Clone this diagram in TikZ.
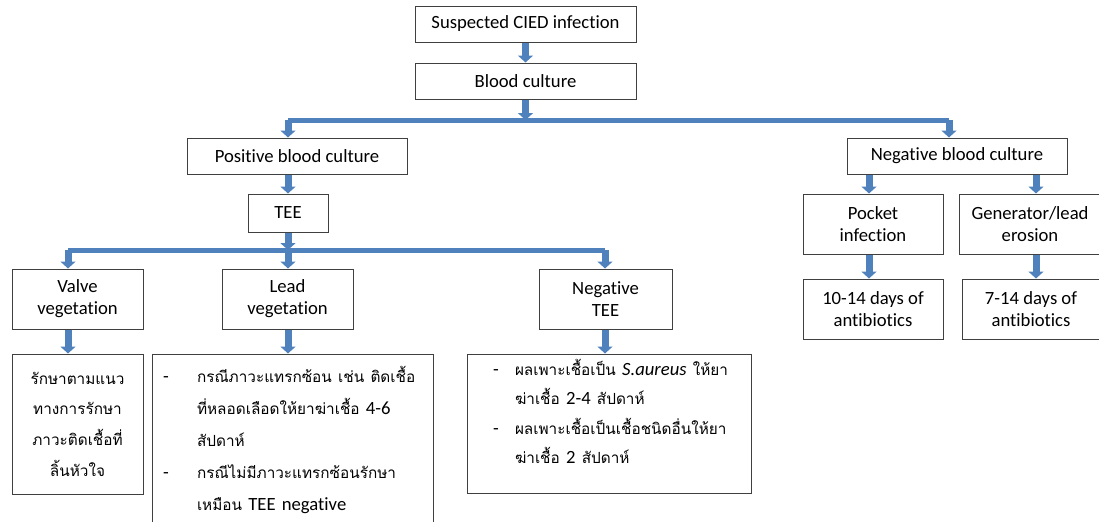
\documentclass[tikz,border=0pt]{standalone}
\usepackage{fontspec}
\setmainfont{Carlito}[Ligatures=NoCommon]
\newfontfamily\thai[Script=Thai]{Loma}
\usetikzlibrary{arrows.meta}
\definecolor{arrowblue}{RGB}{79,129,189}
\definecolor{boxline}{RGB}{64,64,64}
\tikzset{
  blockbox/.style={draw=boxline, line width=0.75pt, fill=white, align=center,
    inner sep=0pt, font=\fontsize{14}{16.5}\selectfont},
  boxsize/.style 2 args={minimum width=#1*0.75pt, minimum height=#2*0.75pt},
  flowarrow/.style={draw=arrowblue, line width=5.25pt,
    -{Triangle[width=11.25pt,length=5.25pt]}},
  flowbar/.style={draw=arrowblue, line width=3.75pt},
}
\newcommand{\dashitem}[2]{\hspace*{#1}\makebox[#2][l]{-}}
\newcommand{\thaitext}[1]{{\thai\fontsize{11.5}{\baselineskip}\selectfont #1}}
\begin{document}
\begin{tikzpicture}[x=0.75pt,y=-0.75pt]
  \clip (0,0) rectangle (1099,521);

  % top of the chart
  \node[blockbox, boxsize={221}{36}] (suspect) at (525.5,24) {Suspected CIED infection};
  \node[blockbox, boxsize={221}{36}] (blood) at (525.5,81) {Blood culture};

  % first split
  \coordinate (split) at (525.5,120);
  \coordinate (posj) at (288,120);
  \coordinate (negj) at (949,120);
  \node[blockbox, boxsize={220}{36}] (pos) at (297,156) {Positive blood culture};
  \node[blockbox, boxsize={220}{36}] (neg) at (957,156) {Negative blood culture};

  % positive side
  \node[blockbox, boxsize={80}{38}] (tee) at (288,213) {TEE};
  \coordinate (teej) at (288,250);
  \coordinate (valvej) at (68,250);
  \coordinate (negteej) at (605,250);
  \node[blockbox, boxsize={131}{60}] (valve) at (77.5,299) {Valve\\vegetation};
  \node[blockbox, boxsize={131}{60}] (lead) at (287.5,299) {Lead\\vegetation};
  \node[blockbox, boxsize={133}{60}] (negtee) at (605.5,299) {Negative\\TEE};

  % treatment boxes
  \node[blockbox, boxsize={131}{140}, font=\thai\fontsize{11.5}{23}\selectfont] (valvetx) at (77.5,424)
    {รักษาตามแนว\\ทางการรักษา\\ภาวะติดเชื้อที่\\ลิ้นหัวใจ};
  \node[blockbox, boxsize={281}{172}, text width=210.75pt, align=left,
    font=\fontsize{14}{24}\selectfont] (leadtx) at (292.5,440)
    {\dashitem{8.25pt}{25.5pt}\thaitext{กรณีภาวะแทรกซ้อน เช่น ติดเชื้อ}\\
     \hspace*{33.75pt}\thaitext{ที่หลอดเลือดให้ยาฆ่าเชื้อ} 4-6\\
     \hspace*{33.75pt}\thaitext{สัปดาห์}\\
     \dashitem{8.25pt}{25.5pt}\thaitext{กรณีไม่มีภาวะแทรกซ้อนรักษา}\\
     \hspace*{33.75pt}\thaitext{เหมือน} TEE negative};
  \node[blockbox, boxsize={284}{139}, text width=213pt, align=left,
    font=\fontsize{14}{22}\selectfont] (negteetx) at (609,423.5)
    {\dashitem{19.5pt}{16.5pt}\thaitext{ผลเพาะเชื้อเป็น} \textit{S.aureus} \thaitext{ให้ยา}\\
     \hspace*{36pt}\thaitext{ฆ่าเชื้อ} 2-4 \thaitext{สัปดาห์}\\
     \dashitem{19.5pt}{16.5pt}\thaitext{ผลเพาะเชื้อเป็นเชื้อชนิดอื่นให้ยา}\\
     \hspace*{36pt}\thaitext{ฆ่าเชื้อ} 2 \thaitext{สัปดาห์}\\[-4pt]\mbox{}};

  % negative side
  \coordinate (pocketc) at (869,0);
  \coordinate (genc) at (1036,0);
  \node[blockbox, boxsize={140}{60}] (pocket) at (873,224) {Pocket\\infection};
  \node[blockbox, boxsize={142}{60}] (gen) at (1030,224) {Generator/lead\\erosion};
  \node[blockbox, boxsize={140}{60}] (abone) at (873,309) {10-14 days of\\antibiotics};
  \node[blockbox, boxsize={138}{60}] (abtwo) at (1031,309) {7-14 days of\\antibiotics};

  % bars
  \draw[flowbar] (posj) -- (negj);
  \draw[flowbar] (valvej) -- (negteej);

  % arrows
  \draw[flowarrow] (suspect) -- (blood);
  \draw[flowarrow] (blood) -- (split);
  \draw[flowarrow] (posj) -- (posj |- pos.north);
  \draw[flowarrow] (negj) -- (negj |- neg.north);
  \draw[flowarrow] (pos.south -| posj) -- (tee);
  \draw[flowarrow] (tee) -- (teej);
  \draw[flowarrow] (valvej) -- (valvej |- valve.north);
  \draw[flowarrow] (teej) -- (teej |- lead.north);
  \draw[flowarrow] (negteej) -- (negteej |- negtee.north);
  \draw[flowarrow] (valve.south -| valvej) -- (valvetx.north -| valvej);
  \draw[flowarrow] (lead.south -| teej) -- (leadtx.north -| teej);
  \draw[flowarrow] (negtee.south -| negteej) -- (negteetx.north -| negteej);
  \draw[flowarrow] (neg.south -| pocketc) -- (pocket.north -| pocketc);
  \draw[flowarrow] (neg.south -| genc) -- (gen.north -| genc);
  \draw[flowarrow] (pocket.south -| pocketc) -- (abone.north -| pocketc);
  \draw[flowarrow] (gen.south -| genc) -- (abtwo.north -| genc);
\end{tikzpicture}
\end{document}
